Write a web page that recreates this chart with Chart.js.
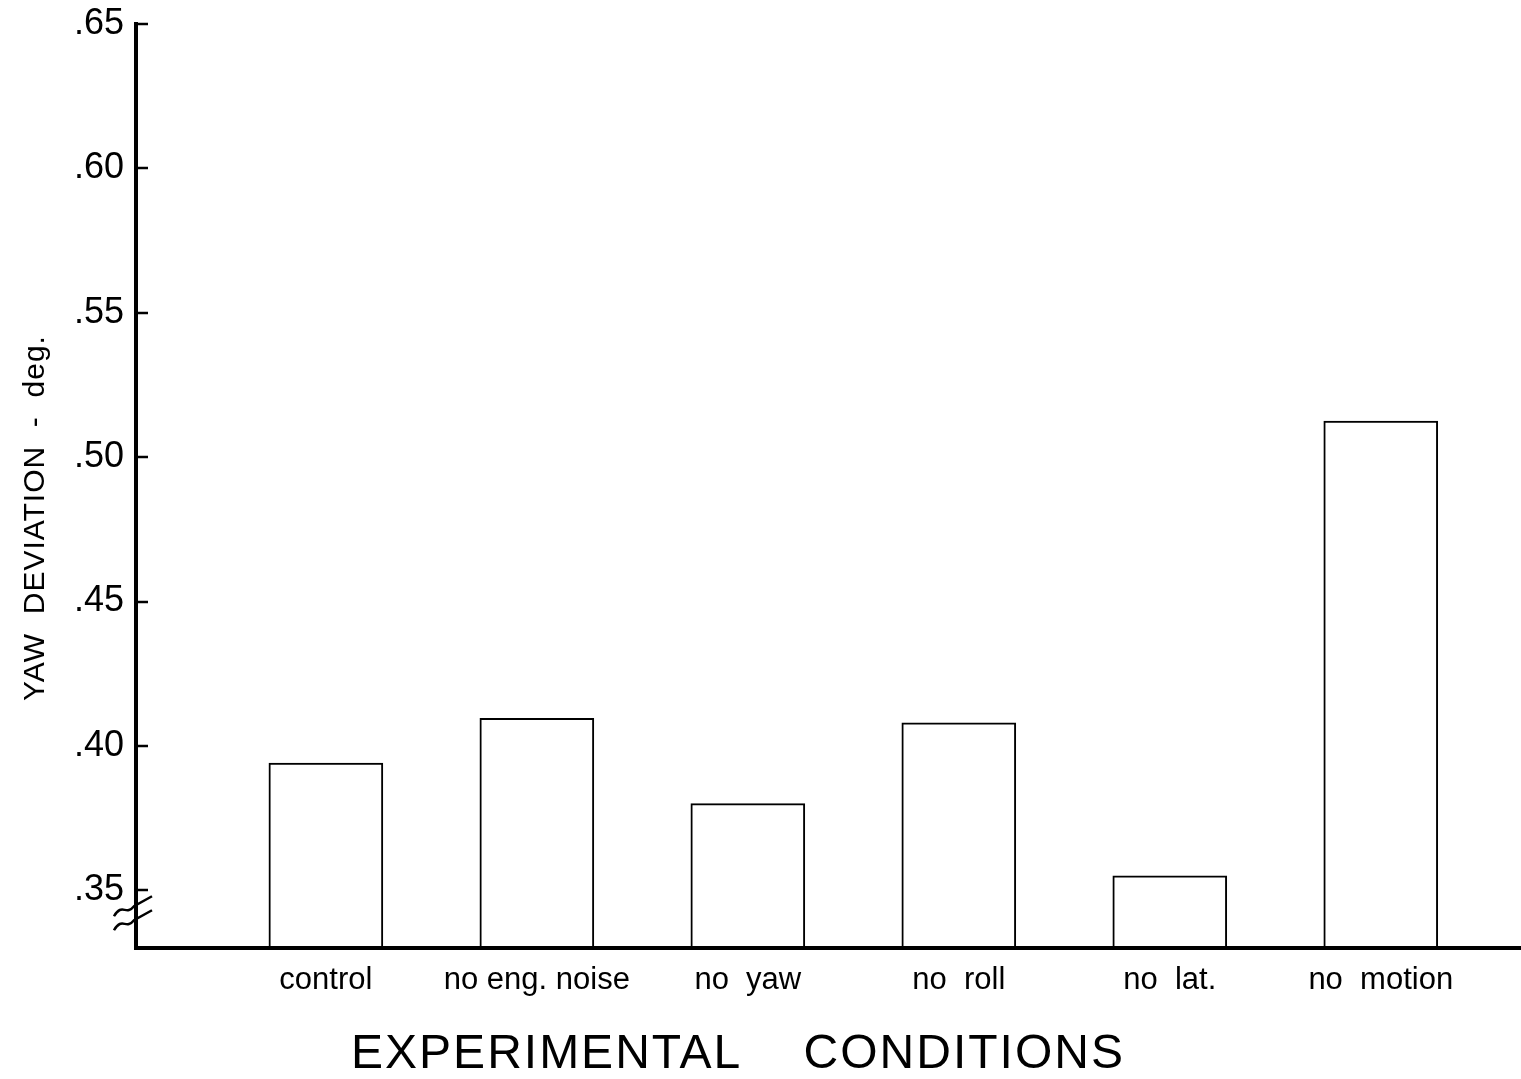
<!DOCTYPE html>
<html>
<head>
<meta charset="utf-8">
<script src="https://cdn.jsdelivr.net/npm/chart.js@4/dist/chart.umd.min.js"></script>
<style>
  html, body { margin: 0; padding: 0; background: #fff; }
  #wrap { width: 1521px; height: 1079px; }
</style>
</head>
<body>
<div id="wrap"><canvas id="yawChart" width="1521" height="1079"></canvas></div>
<script>
// values
const categories = ['control', 'no eng. noise', 'no  yaw', 'no  roll', 'no  lat.', 'no  motion'];
const positions = [0, 1, 2, 3, 4, 5];
const yawDeviation = [0.394, 0.4095, 0.380, 0.408, 0.355, 0.5125];
const yTicks = [0.35, 0.40, 0.45, 0.50, 0.55, 0.60, 0.65];
const yTitle = 'YAW  DEVIATION  -  deg.';
const xTitle = 'EXPERIMENTAL    CONDITIONS';

const FONT = "'Liberation Sans', Arial, sans-serif";

// tick marks on the inside of the y axis, axis break and the axis titles
const extras = {
    id: 'extras',
    afterDraw(chart) {
        const { ctx, chartArea, scales } = chart;
        const y = scales.y;
        ctx.save();
        ctx.strokeStyle = '#000';
        ctx.fillStyle = '#000';

        // corner join
        ctx.fillRect(chartArea.left - 2, chartArea.bottom - 2, 4, 4);

        ctx.lineWidth = 2.5;
        yTicks.forEach(v => {
            const py = Math.round(y.getPixelForValue(v));
            ctx.beginPath();
            ctx.moveTo(chartArea.left, py);
            ctx.lineTo(chartArea.left + 12, py);
            ctx.stroke();
        });

        // break symbol just below .35
        const bx = chartArea.left;
        const by = y.getPixelForValue(0.35);
        ctx.lineWidth = 2.5;
        [18, 32].forEach(dy => {
            ctx.beginPath();
            ctx.moveTo(bx - 22, by + dy + 8);
            ctx.bezierCurveTo(bx - 14, by + dy - 6, bx - 10, by + dy + 8, bx - 2, by + dy - 2);
            ctx.lineTo(bx + 16, by + dy - 12);
            ctx.stroke();
        });

        // y title
        ctx.font = '30px ' + FONT;
        ctx.letterSpacing = '1px';
        ctx.textAlign = 'center';
        ctx.textBaseline = 'middle';
        ctx.translate(36, 518);
        ctx.rotate(-Math.PI / 2);
        ctx.fillText(yTitle, 0, 0);
        ctx.restore();

        // x title
        ctx.save();
        ctx.fillStyle = '#000';
        ctx.font = '48px ' + FONT;
        ctx.letterSpacing = '2px';
        ctx.textAlign = 'center';
        ctx.textBaseline = 'middle';
        ctx.fillText(xTitle, 738, 1055);
        ctx.restore();
    }
};

new Chart(document.getElementById('yawChart'), {
    type: 'bar',
    data: {
        datasets: [{
            data: positions.map((p, i) => ({ x: p, y: yawDeviation[i] })),
            backgroundColor: '#ffffff',
            borderColor: '#000000',
            borderWidth: 2,
            borderSkipped: 'bottom',
            barThickness: 114
        }]
    },
    options: {
        responsive: false,
        animation: false,
        layout: { padding: { top: 24, right: 1, bottom: 0, left: 0 } },
        plugins: {
            legend: { display: false },
            tooltip: { enabled: false }
        },
        scales: {
            x: {
                type: 'linear',
                offset: false,
                min: -0.9,
                max: 5.66,
                afterBuildTicks: (scale) => { scale.ticks = positions.map(v => ({ value: v })); },
                afterFit: (scale) => {
                    scale.height = 131;
                    scale.paddingLeft = 0;
                    scale.paddingRight = 0;
                },
                grid: { display: false, drawTicks: false },
                border: { display: true, color: '#000', width: 4, z: 1 },
                ticks: {
                    color: '#000',
                    padding: 14,
                    autoSkip: false,
                    maxRotation: 0,
                    font: { family: FONT, size: 31 },
                    callback: (v) => categories[v]
                }
            },
            y: {
                min: 0.33,
                max: 0.65,
                afterBuildTicks: (scale) => { scale.ticks = yTicks.map(v => ({ value: v })); },
                afterFit: (scale) => {
                    scale.width = 136;
                    scale.paddingTop = 0;
                    scale.paddingBottom = 0;
                },
                grid: { display: false, drawTicks: false },
                border: { display: true, color: '#000', width: 4, z: 1 },
                ticks: {
                    color: '#000',
                    padding: 12,
                    font: { family: FONT, size: 36 },
                    callback: (v) => v.toFixed(2).replace(/^0/, '')
                }
            }
        }
    },
    plugins: [extras]
});
</script>
</body>
</html>
